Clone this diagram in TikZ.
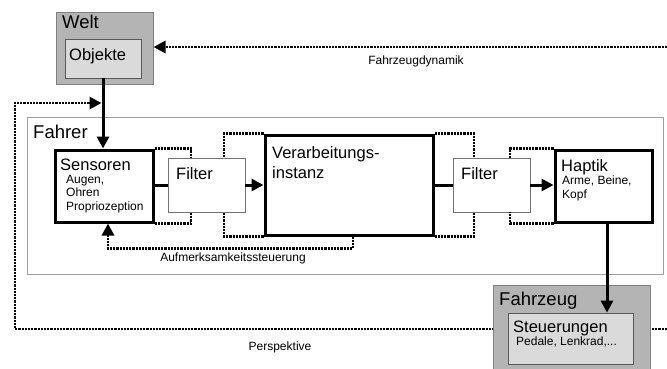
\documentclass[tikz,border=0pt]{standalone}
\usepackage{fontspec}
\setmainfont{Liberation Sans}
\usetikzlibrary{arrows.meta,positioning,backgrounds}
\definecolor{weltgrau}{RGB}{180,180,180}
\definecolor{innengrau}{RGB}{218,218,218}
\definecolor{randgrau}{RGB}{160,160,160}
\tikzset{
  grossschrift/.style={font=\fontsize{18.5}{20}\selectfont},
  mittelschrift/.style={font=\fontsize{16.5}{20}\selectfont},
  kleinschrift/.style={font=\fontsize{12}{13.5}\selectfont},
  outerbox/.style={rectangle, inner sep=0pt, draw=black!50, fill=weltgrau, line width=1pt},
  innerbox/.style={rectangle, inner sep=0pt, draw=black!65, fill=innengrau, line width=0.8pt},
  fahrerbox/.style={rectangle, inner sep=0pt, draw=randgrau, fill=white, line width=1pt},
  thickbox/.style={rectangle, inner sep=0pt, draw=black, fill=white, line width=3pt},
  filterbox/.style={rectangle, inner sep=0pt, draw=black!55, fill=white, line width=0.8pt},
  txt/.style={anchor=base west, inner sep=0pt},
  txtblock/.style={anchor=north west, inner sep=0pt, align=left},
  arrow/.style={-{Triangle[length=12pt,width=12pt]}, line width=3pt},
  conn/.style={line width=3pt},
  dotline/.style={line width=2.8pt, dash pattern=on 2.2pt off 1pt},
  dotarrow/.style={dotline, -{Triangle[length=12pt,width=12pt]}},
}

\begin{document}
\begin{tikzpicture}[x=1pt,y=-1pt]
  \useasboundingbox (0,0) rectangle (667,368);

  % Welt
  \node[outerbox, minimum width=97pt, minimum height=72pt] (welt) at (104.5,48) {};
  \node[txt, grossschrift] (weltlabel) at (62,28) {Welt};
  \node[innerbox, minimum width=76pt, minimum height=39pt] (objekte) at (103,58.5) {};
  \node[txt, mittelschrift] (objektelabel) at (69,60) {Objekte};

  % Fahrer
  \node[fahrerbox, minimum width=636pt, minimum height=157pt] (fahrer) at (345,195.5) {};
  \node[txt, grossschrift] (fahrerlabel) at (33,138) {Fahrer};

  \node[thickbox, minimum width=98pt, minimum height=72pt] (sensoren) at (104,186) {};
  \node[txt, mittelschrift] (sensorenlabel) at (60,170) {Sensoren};
  \node[txtblock, kleinschrift] (sinne) at (66,175) {Augen,\\Ohren\\Propriozeption};

  \node[filterbox, minimum width=77pt, minimum height=54pt] (filterA) at (206.5,185) {};
  \node[txt, mittelschrift] (filterAlabel) at (176,179) {Filter};

  \node[thickbox, minimum width=168pt, minimum height=100pt] (verarb) at (349,185) {};
  \node[txtblock, mittelschrift] (verarblabel) at (272,146) {Verarbeitungs-\\instanz};

  \node[filterbox, minimum width=77pt, minimum height=54pt] (filterB) at (491.5,185) {};
  \node[txt, mittelschrift] (filterBlabel) at (461,179) {Filter};

  \node[thickbox, minimum width=97pt, minimum height=72pt] (haptik) at (603.5,186) {};
  \node[txt, mittelschrift] (haptiklabel) at (561,171) {Haptik};
  \node[txtblock, kleinschrift] (glieder) at (562,176) {Arme, Beine,\\Kopf};

  % Fahrzeug
  \node[outerbox, minimum width=157pt, minimum height=95pt, anchor=north] (fahrzeug) at (571.5,285) {};
  \node[txt, grossschrift] (fahrzeuglabel) at (499,305) {Fahrzeug};
  \node[innerbox, minimum width=125pt, minimum height=51pt] (steuerungen) at (570.5,338.5) {};
  \node[txt, mittelschrift] (steuerungenlabel) at (513,332) {Steuerungen};
  \node[txt, kleinschrift] (bedienteile) at (516,345) {Pedale, Lenkrad,...};

  % Signalfluss
  \draw[arrow] (objekte.south) -- (objekte.south |- sensoren.north);
  \draw[conn] (filterA.west -| sensoren.east) -- (filterA.west);
  \draw[arrow] (filterA.east) -- (verarb.west);
  \draw[conn] (verarb.east) -- (filterB.west);
  \draw[arrow] (filterB.east) -- (haptik.west |- filterB.east);
  \draw[arrow] ([xshift=3.5pt]haptik.south) -- ([xshift=3.5pt]haptik.south |- steuerungen.north);

  % Filterklammern
  \draw[dotline] (sensoren.north east) -| ([xshift=-15.5pt]filterA.north);
  \draw[dotline] (sensoren.south east) -| ([xshift=-15.5pt]filterA.south);
  \draw[dotline] (verarb.north west) -| ([xshift=17.5pt]filterA.north);
  \draw[dotline] (verarb.south west) -| ([xshift=17.5pt]filterA.south);
  \draw[dotline] (verarb.north east) -| ([xshift=-17.5pt]filterB.north);
  \draw[dotline] (verarb.south east) -| ([xshift=-17.5pt]filterB.south);
  \draw[dotline] (haptik.north west) -| ([xshift=18.5pt]filterB.north);
  \draw[dotline] (haptik.south west) -| ([xshift=18.5pt]filterB.south);

  % Rueckkopplungen
  \draw[dotarrow] ([xshift=4pt]verarb.south) -- ++(0,12) -| ([xshift=4pt]sensoren.south);
  \node[kleinschrift] (aufmerksamkeit) at (233,258) {Aufmerksamkeitssteuerung};

  \coordinate (dynrand) at (667,47);
  \draw[dotarrow] (dynrand) -- (welt.east |- dynrand);
  \node[kleinschrift] (dynamik) at (416,61) {Fahrzeugdynamik};

  \coordinate (persprand) at (667,329);
  \coordinate (perspecke) at (15,103);
  \coordinate (merge) at (objekte.south |- perspecke);
  \begin{scope}[on background layer]
    \draw[dotarrow, shorten >=1.5pt] (persprand) -| (perspecke) -- (merge);
  \end{scope}
  \node[kleinschrift] (perspektive) at (280,347) {Perspektive};

\end{tikzpicture}
\end{document}
